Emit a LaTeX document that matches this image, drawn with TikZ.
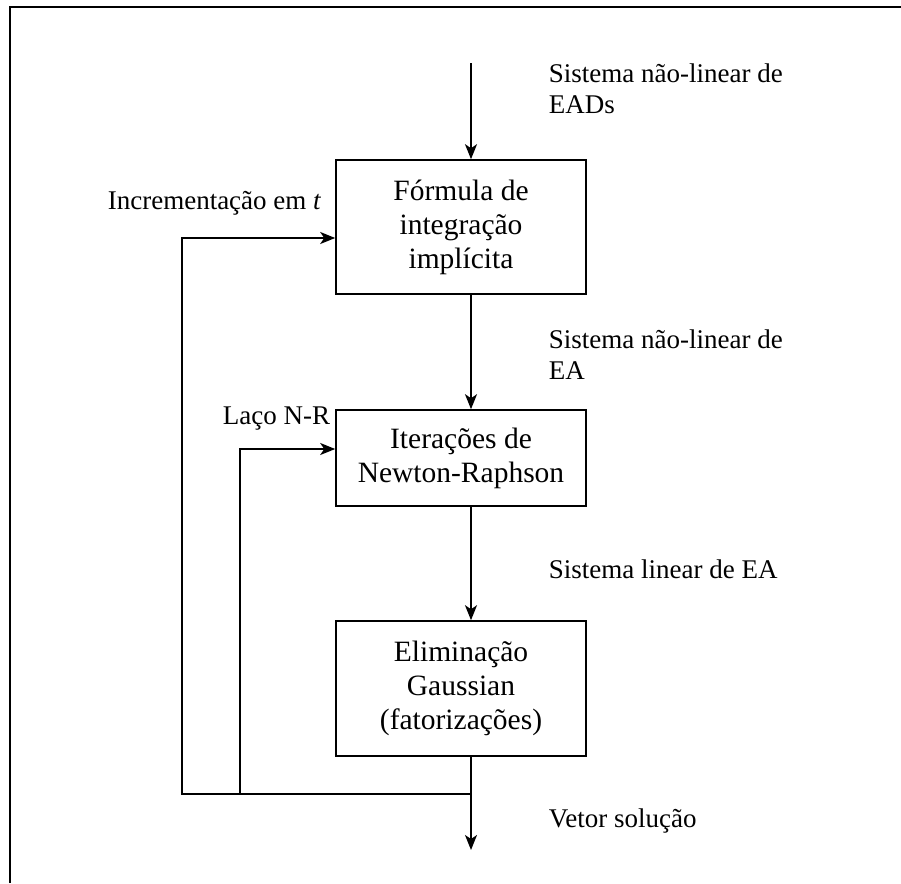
\documentclass[tikz,border=0pt]{standalone}
\usepackage{fontspec}
\setmainfont{Liberation Serif}
\usetikzlibrary{arrows.meta}
\begin{document}
\begin{tikzpicture}[x=1pt,y=-1pt,line width=1.6pt,
                    >={Stealth[length=15pt,width=12pt,inset=4pt]},
                    main node/.style={rectangle,draw,align=center,inner sep=0pt,
                                      minimum width=250pt,
                                      font=\fontsize{29.5}{34}\selectfont},
                    txt/.style={anchor=west,align=left,inner sep=0pt,
                                font=\fontsize{27}{31}\selectfont}]
  \useasboundingbox (0,0) rectangle (901,883);
  % open frame (top and left side only)
  \draw[line width=2.6pt] (10,883) -- (10,7) -- (901,7);

  % the three stages
  \node[main node,minimum height=134pt] (1) at (461,227) {Fórmula de\\integração\\implícita};
  \node[main node,minimum height=96pt]  (2) at (461,458) {Iterações de\\Newton-Raphson};
  \node[main node,minimum height=135pt] (3) at (461,688.5) {Eliminação\\Gaussian\\(fatorizações)};

  % flow ends and loop corners
  \coordinate (in)  at (471,63);
  \coordinate (out) at (471,850);
  \coordinate (j)   at (471,794);
  \coordinate (a)   at (182,238);
  \coordinate (b)   at (240,449);

  \node[txt] (L1) at (548,89)  {Sistema não-linear de\\EADs};
  \node[txt] (L2) at (548,355) {Sistema não-linear de\\EA};
  \node[txt] (L3) at (548,569) {Sistema linear de EA};
  \node[txt] (L4) at (548,821) {Vetor solução};
  \node[txt] (Lt) at (107,203) {Incrementação em \textit{t}};
  \node[txt] (Ln) at (222,419) {Laço N-R};

  \draw[->] (in) -- (in |- 1.north);
  \draw[->] (1.south -| in) -- (2.north -| in);
  \draw[->] (2.south -| in) -- (3.north -| in);
  \draw[->] (3.south -| in) -- (out);
  % time step loop and N-R loop
  \draw[->] (j) -- (j -| a) -- (a) -- (a -| 1.west);
  \draw[->] (j -| b) -- (b) -- (b -| 2.west);
\end{tikzpicture}
\end{document}
